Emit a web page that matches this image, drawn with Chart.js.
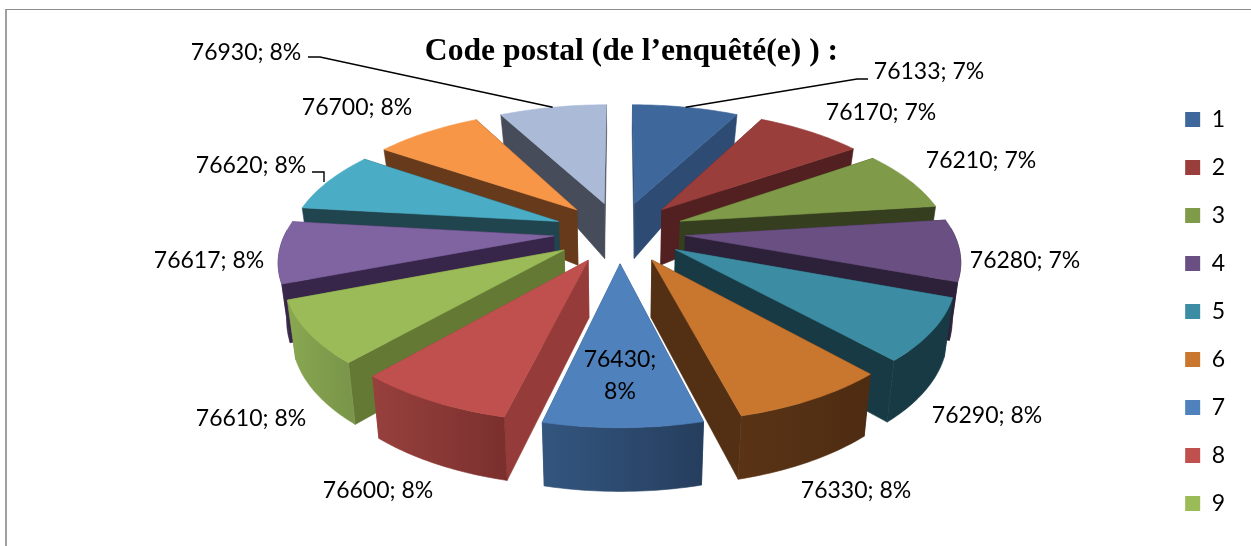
<!DOCTYPE html>
<html>
<head>
<meta charset="utf-8">
<title>Code postal</title>
<script src="https://cdn.jsdelivr.net/npm/chart.js@4/dist/chart.umd.min.js"></script>
<style>
  html, body { margin: 0; padding: 0; background: #fff; overflow: hidden; }
  #frame { position: absolute; left: 5px; top: 9px; width: 1246px; height: 537px; border-left: 2px solid #a0a0a0; border-top: 1px solid #8c8c8c; }
  #chart { position: absolute; left: 0; top: 0; }
</style>
</head>
<body>
<div id="frame"></div>
<canvas id="chart" width="1251" height="546"></canvas>
<script>
// Data
const legendNames = ['1', '2', '3', '4', '5', '6', '7', '8', '9', '10', '11', '12', '13'];
const postalCodes = [76133, 76170, 76210, 76280, 76290, 76330, 76430, 76600, 76610, 76617, 76620, 76700, 76930];
const percents = [7, 7, 7, 7, 8, 8, 8, 8, 8, 8, 8, 8, 8];

// Slice colours: top face, cut face, outer wall (left and right end)
const topColors = ['#3e689b', '#9a3e3c', '#7f9a48', '#694f82', '#3c8da3', '#c9772f', '#4f81bd', '#c0504d', '#9bbb59', '#8064a2', '#4bacc6', '#f79646', '#aabad7'];
const sideColors = ['#2e4c73', '#522020', '#353f1f', '#2c2138', '#173a45', '#532f14', '#2e4d73', '#953c3a', '#647934', '#37264a', '#20454f', '#663a1b', '#464c5a'];
const wallLeft = ['#2e4c73', '#522020', '#353f1f', '#2c2138', '#173a45', '#5a3315', '#33567f', '#97403d', '#8aa751', '#3a2a50', '#20454f', '#663a1b', '#464c5a'];
const wallRight = ['#2e4c73', '#522020', '#353f1f', '#2c2138', '#173a45', '#4e2c12', '#263e5e', '#7b302e', '#79964a', '#37264a', '#20454f', '#663a1b', '#464c5a'];

// Text placement of the data labels (centre of the text)
const labelPlaces = [
  [929, 72], [881, 113], [981, 161], [1025, 261], [987, 416], [856, 491], [620, 360],
  [378, 491], [251, 419], [209, 261], [251, 166], [357, 108], [246, 53]
];
// Leader lines: label side, elbow, then angle share of the slice it points to
const leaders = [
  { slice: 0, from: [868, 79], elbow: [857, 79], share: 0.5 },
  { slice: 12, from: [308, 57], elbow: [320, 57], share: 0.5 },
  { slice: 10, from: [312, 172], elbow: [324, 172], share: 0.12 }
];

// 3D view of the pie
const view = { cx: 619.5, cy: 232, radius: 268, persp: 0.216, reach: 344, tilt: 0.463 };
const labelFont = '23px Lato, sans-serif';

function wallDepth(y) {
  if (y < -64) return Math.max(20, 55 - (-64 - y) * 0.106);
  return 55 + (y + 64) * 0.022;
}

// ground coordinates to screen, lifted = false gives the bottom edge of the wall
function project(x, y, lifted) {
  const w = 1 - view.persp * y / view.reach;
  let sx = view.cx + x / w;
  let sy = view.cy + view.tilt * y / w;
  if (!lifted) {
    sx = view.cx + (sx - view.cx) * 0.975;
    sy += wallDepth(y);
  }
  return [sx, sy];
}

function groundPoint(el, angle, atEdge) {
  const mid = (el.startAngle + el.endAngle) / 2;
  const off = el.options.offset;
  const r = atEdge ? view.radius : 0;
  return [off * Math.cos(mid) + r * Math.cos(angle), off * Math.sin(mid) + r * Math.sin(angle)];
}

function tracePoly(ctx, pts) {
  ctx.beginPath();
  pts.forEach((p, i) => { if (i === 0) ctx.moveTo(p[0], p[1]); else ctx.lineTo(p[0], p[1]); });
  ctx.closePath();
}

function fillPoly(ctx, pts, fill) {
  tracePoly(ctx, pts);
  ctx.fillStyle = fill;
  ctx.strokeStyle = fill;
  ctx.lineWidth = 0.6;
  ctx.fill();
  ctx.stroke();
}

function drawSlice(ctx, el, i) {
  const steps = 28;
  const tip = groundPoint(el, 0, false);
  const edge = [];
  for (let s = 0; s <= steps; s++) {
    const a = el.startAngle + (el.endAngle - el.startAngle) * s / steps;
    edge.push({ a, g: groundPoint(el, a, true) });
  }
  const first = edge[0].g;
  const last = edge[steps].g;
  const tipTop = project(tip[0], tip[1], true);
  const tipLow = project(tip[0], tip[1], false);

  // cut faces
  [first, last].forEach(g => {
    fillPoly(ctx, [tipTop, project(g[0], g[1], true), project(g[0], g[1], false), tipLow], sideColors[i]);
  });

  // outer wall, only the part turned to the viewer
  const seen = edge.filter(e => Math.sin(e.a) > -0.06);
  if (seen.length > 1) {
    const upper = seen.map(e => project(e.g[0], e.g[1], true));
    const lower = seen.map(e => project(e.g[0], e.g[1], false)).reverse();
    const xs = upper.map(p => p[0]);
    const grad = ctx.createLinearGradient(Math.min(...xs), 0, Math.max(...xs), 0);
    grad.addColorStop(0, wallLeft[i]);
    grad.addColorStop(1, wallRight[i]);
    fillPoly(ctx, upper.concat(lower), grad);
  }

  // top face
  fillPoly(ctx, [tipTop].concat(edge.map(e => project(e.g[0], e.g[1], true))), topColors[i]);
}

const pie3d = {
  id: 'pie3d',
  beforeDatasetDraw(chart, args) {
    const ctx = chart.ctx;
    const arcs = args.meta.data.map((el, i) => ({ el, i }));
    // far slices first
    arcs.sort((a, b) => Math.sin((a.el.startAngle + a.el.endAngle) / 2) - Math.sin((b.el.startAngle + b.el.endAngle) / 2));
    ctx.save();
    arcs.forEach(item => drawSlice(ctx, item.el, item.i));
    ctx.restore();
    return false;
  },
  afterDraw(chart) {
    const ctx = chart.ctx;
    const arcs = chart.getDatasetMeta(0).data;
    ctx.save();

    // leader lines
    ctx.strokeStyle = '#000';
    ctx.lineWidth = 1.4;
    leaders.forEach(l => {
      const el = arcs[l.slice];
      const a = el.startAngle + (el.endAngle - el.startAngle) * l.share;
      const g = groundPoint(el, a, true);
      const end = project(g[0], g[1], true);
      ctx.beginPath();
      ctx.moveTo(l.from[0], l.from[1]);
      ctx.lineTo(l.elbow[0], l.elbow[1]);
      if (l.slice === 10) ctx.lineTo(l.elbow[0], 182); else ctx.lineTo(end[0], end[1]);
      ctx.stroke();
    });

    // data labels
    ctx.fillStyle = '#000';
    ctx.font = labelFont;
    ctx.textAlign = 'center';
    ctx.textBaseline = 'middle';
    postalCodes.forEach((code, i) => {
      const p = labelPlaces[i];
      if (i === 6) {
        ctx.fillText(code + ';', p[0], p[1]);
        ctx.fillText(percents[i] + '%', p[0], p[1] + 32);
      } else {
        ctx.fillText(code + '; ' + percents[i] + '%', p[0], p[1]);
      }
    });
    ctx.restore();
  }
};

new Chart(document.getElementById('chart'), {
  type: 'pie',
  data: {
    labels: legendNames,
    datasets: [{
      data: postalCodes,
      backgroundColor: topColors,
      borderWidth: 0,
      offset: 66
    }]
  },
  options: {
    responsive: false,
    animation: false,
    layout: { padding: { left: 28, right: 16, top: 0, bottom: 0 } },
    plugins: {
      title: {
        display: true,
        text: 'Code postal (de l’enquêté(e) ) :',
        color: '#000',
        font: { family: '"Liberation Serif", serif', size: 31.6, weight: 'bold' },
        padding: { top: 33, bottom: 12 }
      },
      legend: {
        position: 'right',
        align: 'start',
        fullSize: false,
        labels: {
          boxWidth: 15,
          boxHeight: 15,
          padding: 25,
          color: '#000',
          font: { family: 'Lato, sans-serif', size: 23 },
          filter: item => item.index < 9
        }
      },
      tooltip: { enabled: false }
    }
  },
  plugins: [pie3d]
});
</script>
</body>
</html>
